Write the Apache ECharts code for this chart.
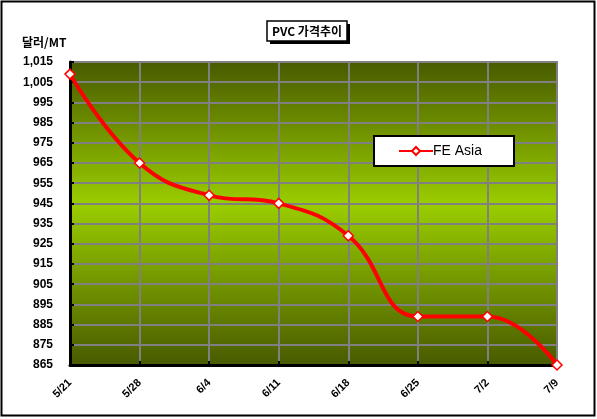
<!DOCTYPE html>
<html><head><meta charset="utf-8">
<script src="https://cdn.jsdelivr.net/npm/echarts@6/dist/echarts.min.js"></script>
<style>html,body{margin:0;padding:0;background:#fff}#c{width:597px;height:419px}</style>
</head><body><div id="c"></div>
<script>
const categories = ['5/21','5/28','6/4','6/11','6/18','6/25','7/2','7/9'];
const feAsia = [1009, 965, 949, 945, 929, 889, 889, 865];
const yMin = 865, yMax = 1015, yStep = 10;
const seriesName = 'FE Asia';
const titleText = 'PVC 가격추이';
const yUnit = '달러/MT';

const chart = echarts.init(document.getElementById('c'));
const fmt = v => String(v).replace(/\B(?=(\d{3})+(?!\d))/g, ',');
chart.setOption({
  animation: false,
  textStyle: {fontFamily: 'Liberation Sans, Arial, sans-serif'},
  grid: {
    left: 70, right: 40, top: 62, bottom: 54,
    show: true, borderColor: '#808080', borderWidth: 2,
    backgroundColor: new echarts.graphic.LinearGradient(0, 0, 0, 1, [
      {offset: 0, color: '#485a00'},
      {offset: 0.47, color: '#9acd00'},
      {offset: 1, color: '#485a00'}
    ])
  },
  xAxis: {
    type: 'category', data: categories, boundaryGap: false,
    axisLine: {lineStyle: {color: '#000', width: 3}},
    axisTick: {show: true, inside: true, length: 4, lineStyle: {color: '#000', width: 2}},
    splitLine: {show: true, lineStyle: {color: '#808080', width: 2}},
    axisLabel: {rotate: 45, margin: 16, fontSize: 11, fontWeight: 'bold', color: '#000'}
  },
  yAxis: {
    type: 'value', min: yMin, max: yMax, interval: yStep,
    axisLine: {show: true, lineStyle: {color: '#000', width: 3}},
    axisTick: {show: true, inside: true, length: 4, lineStyle: {color: '#000', width: 2}},
    splitLine: {show: true, lineStyle: {color: '#808080', width: 2}},
    axisLabel: {fontSize: 12, fontWeight: 'bold', color: '#000', margin: 17, formatter: fmt}
  },
  legend: {
    left: 374, top: 136, width: 110, itemWidth: 34, itemHeight: 10,
    backgroundColor: '#fff', borderColor: '#000', borderWidth: 2,
    padding: [8, 32, 8, 24], itemGap: 0,
    textStyle: {fontSize: 14, color: '#000', padding: [0,0,0,-5]},
    data: [seriesName]
  },
  series: [{
    name: seriesName, type: 'line', data: feAsia, smooth: 0.45,
    lineStyle: {color: '#ff0000', width: 4},
    itemStyle: {color: '#fff', borderColor: '#ff0000', borderWidth: 1.5},
    symbol: 'diamond', symbolSize: 10, showAllSymbol: true
  }],
  graphic: [
    {type: 'rect', shape: {x: 1.5, y: 1.5, width: 593, height: 414}, style: {fill: 'none', stroke: '#000', lineWidth: 2}, silent: true},
    {type: 'rect', shape: {x: 270, y: 24, width: 80, height: 20}, style: {fill: '#000'}},
    {type: 'rect', shape: {x: 267, y: 21, width: 80, height: 20}, style: {fill: '#fff', stroke: '#000', lineWidth: 1.5}},
    {type: 'text', x: 307, y: 31, style: {text: titleText, font: 'bold 12px "Noto Sans CJK KR", sans-serif', fill: '#000', align: 'center', verticalAlign: 'middle'}},
    {type: 'text', x: 22, y: 42, style: {text: yUnit, font: 'bold 12px "Noto Sans CJK KR", sans-serif', fill: '#000', verticalAlign: 'middle'}}
  ]
});
</script></body></html>
